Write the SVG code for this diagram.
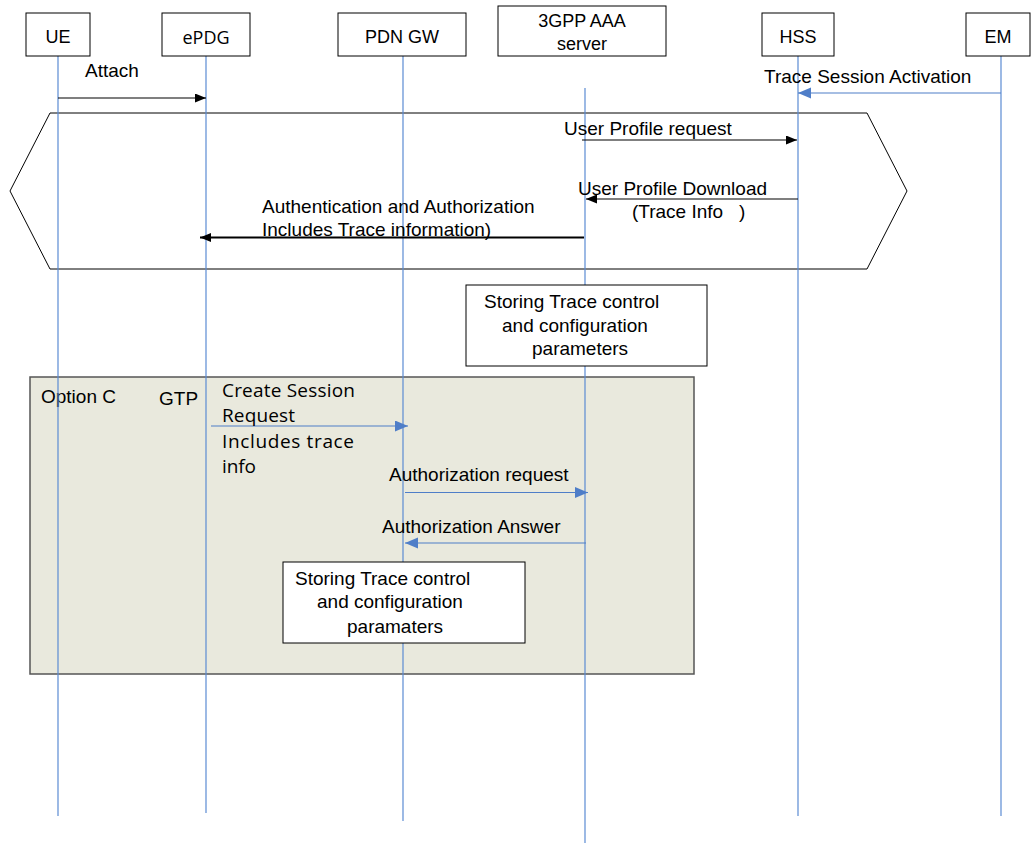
<svg xmlns="http://www.w3.org/2000/svg" width="1031" height="843" viewBox="0 0 1031 843">
<style>
text{font-family:"Liberation Sans",Arial,sans-serif;font-size:19px;fill:#000}
.hdr{font-size:18px;text-anchor:middle}
.cal{font-family:"Open Sans","Noto Sans",sans-serif;font-size:19px}
.box{fill:#fff;stroke:#000;stroke-width:1}
.life{stroke:#5B8BD3;stroke-width:1.2;fill:none}
.blk{stroke:#000;stroke-width:1.2;fill:none}
.blu{stroke:#4F7EC8;stroke-width:1.2;fill:none}
</style>
<defs>
<marker id="ab" markerUnits="userSpaceOnUse" markerWidth="12" markerHeight="10" refX="11" refY="4.5" orient="auto">
<path d="M0,0 L11,4.5 L0,9 Z" fill="#000"/>
</marker>
<marker id="au" markerUnits="userSpaceOnUse" markerWidth="14" markerHeight="12" refX="13" refY="5.5" orient="auto">
<path d="M0,0 L13,5.5 L0,11 Z" fill="#4F7EC8"/>
</marker>
</defs>
<rect width="1031" height="843" fill="#fff"/>

<g id="option-c">
<rect x="30" y="377" width="664" height="297" fill="#E9E9DD" stroke="#555" stroke-width="1.5"/>
<text x="41" y="403">Option C</text>
<text x="159" y="405">GTP</text>
</g>

<g id="hexagon">
<path d="M50,113 L867,113 L907,191 L867,269 L50,269 L10,191 Z" fill="none" stroke="#000" stroke-width="1"/>
</g>

<g id="lifelines">
<line class="life" x1="58" y1="56" x2="58" y2="816"/>
<line class="life" x1="206" y1="56" x2="206" y2="813"/>
<line class="life" x1="403" y1="56" x2="403" y2="821"/>
<line class="life" x1="585" y1="88" x2="585" y2="843"/>
<line class="life" x1="798" y1="56" x2="798" y2="816"/>
<line class="life" x1="1001" y1="56" x2="1001" y2="816"/>
</g>

<g id="UE"><rect class="box" x="26" y="13" width="64" height="43"/><text class="hdr" x="58" y="43">UE</text></g>
<g id="ePDG"><rect class="box" x="162" y="13" width="88" height="43"/><text class="hdr cal" x="206" y="44" style="font-size:18px">ePDG</text></g>
<g id="PDNGW"><rect class="box" x="338" y="13" width="128" height="43"/><text class="hdr" x="402" y="43">PDN GW</text></g>
<g id="AAA"><rect class="box" x="498" y="6" width="168" height="50"/><text class="hdr" x="582" y="27">3GPP AAA</text><text class="hdr" x="582" y="50">server</text></g>
<g id="HSS"><rect class="box" x="762" y="13" width="72" height="43"/><text class="hdr" x="798" y="43">HSS</text></g>
<g id="EM"><rect class="box" x="966" y="13" width="64" height="43"/><text class="hdr" x="998" y="43">EM</text></g>

<g id="connectors">
<line class="blk" x1="58" y1="98" x2="206" y2="98" marker-end="url(#ab)"/>
<text x="85" y="77" font-size="18">Attach</text>
<line class="blu" x1="1001" y1="93" x2="798" y2="93" marker-end="url(#au)"/>
<text x="764" y="83">Trace Session Activation</text>
<line class="blk" x1="582" y1="140" x2="797" y2="140" marker-end="url(#ab)"/>
<text x="564" y="135">User Profile request</text>
<line class="blk" x1="798" y1="199" x2="586" y2="199" marker-end="url(#ab)"/>
<text x="578" y="195">User Profile Download</text>
<text x="632" y="218" style="white-space:pre">(Trace Info   )</text>
<line x1="584" y1="237.5" x2="200" y2="237.5" stroke="#000" stroke-width="2" marker-end="url(#ab)"/>
<text x="262" y="213">Authentication and Authorization</text>
<text x="262" y="236">Includes Trace information)</text>
<line class="blu" x1="211" y1="426" x2="408" y2="426" marker-end="url(#au)"/>
<text class="cal" x="222" y="397" textLength="133">Create Session</text>
<text class="cal" x="222" y="422" textLength="73">Request</text>
<text class="cal" x="222" y="448" textLength="132">Includes trace</text>
<text class="cal" x="222" y="473" textLength="34">info</text>
<line class="blu" x1="405" y1="492.5" x2="588" y2="492.5" marker-end="url(#au)"/>
<text x="389" y="481">Authorization request</text>
<line class="blu" x1="586" y1="543" x2="405" y2="543" marker-end="url(#au)"/>
<text x="382" y="533">Authorization Answer</text>
</g>

<g id="store-aaa">
<rect class="box" x="466" y="285" width="241" height="81"/>
<text x="484" y="308">Storing Trace control</text>
<text x="502" y="332">and configuration</text>
<text x="532" y="355">parameters</text>
</g>

<g id="store-pgw">
<rect class="box" x="283" y="562" width="242" height="81"/>
<text x="295" y="585">Storing Trace control</text>
<text x="317" y="608">and configuration</text>
<text x="347" y="633">paramaters</text>
</g>
</svg>
